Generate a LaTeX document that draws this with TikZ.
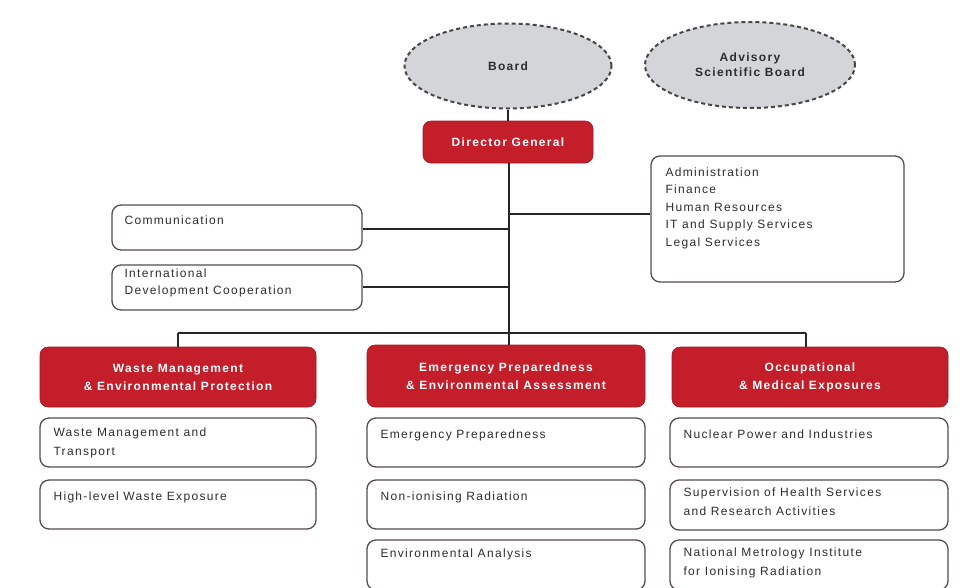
\documentclass[tikz,border=0pt]{standalone}
\usepackage{fontspec}
\setmainfont{Liberation Sans}[LetterSpace=11]
\usetikzlibrary{shapes.geometric}
\definecolor{deptred}{RGB}{196,30,42}
\definecolor{boxline}{RGB}{88,74,78}
\definecolor{txtgray}{RGB}{45,45,45}
\definecolor{ovalfill}{RGB}{211,213,216}
\definecolor{ovalline}{RGB}{70,70,70}
\tikzset{
  oval/.style={ellipse, draw=ovalline, fill=ovalfill, dashed, line width=2pt,
    dash pattern=on 4pt off 3pt, text=txtgray, font=\fontsize{12}{15}\selectfont\bfseries,
    align=center, inner sep=0pt},
  redbox/.style={rectangle, rounded corners=8pt, fill=deptred, draw=deptred!80!black,
    line width=0.6pt, text=white, font=\fontsize{12}{18}\selectfont\bfseries, align=center, inner sep=0pt},
  unitbox/.style={rectangle, rounded corners=9pt, draw=boxline, line width=1.3pt,
    fill=white, inner sep=0pt},
  unittext/.style={anchor=north west, inner sep=0pt, text=txtgray,
    font=\fontsize{12}{19}\selectfont, align=left},
  link/.style={draw=black!85, line width=1.1pt},
}
\begin{document}
\begin{tikzpicture}[x=1pt,y=-1pt]
\useasboundingbox (0,0) rectangle (966,587);

% governing boards
\node[oval, minimum width=207pt, minimum height=85pt] (board) at (508,66) {Board};
\node[oval, minimum width=210pt, minimum height=86pt] (asb) at (750,65) {Advisory\\Scientific Board};

% director general
\node[redbox, minimum width=170pt, minimum height=42pt] (dg) at (508,142) {Director General};

% staff units
\node[unitbox, minimum width=253pt, minimum height=126pt] (adm) at (777.5,219) {};
\node[unittext, font=\fontsize{12}{17.5}\selectfont] (admt) at ([xshift=15pt,yshift=-12pt]adm.north west)
  {Administration\\Finance\\Human Resources\\IT and Supply Services\\Legal Services};
\node[unitbox, minimum width=250pt, minimum height=45pt] (com) at (237,227.5) {};
\node[unittext] (comt) at ([xshift=13pt,yshift=-11pt]com.north west) {Communication};
\node[unitbox, minimum width=250pt, minimum height=45pt] (idc) at (237,287.5) {};
\node[unittext, font=\fontsize{12}{17}\selectfont] (idct) at ([xshift=13pt,yshift=-4pt]idc.north west)
  {International\\Development Cooperation};

% departments
\node[redbox, minimum width=276pt, minimum height=60pt] (wm) at (178,377) {Waste Management\\\& Environmental Protection};
\node[redbox, minimum width=278pt, minimum height=62pt] (ep) at (506,376) {Emergency Preparedness\\\& Environmental Assessment};
\node[redbox, minimum width=276pt, minimum height=60pt] (om) at (810,377) {Occupational\\\& Medical Exposures};

% sections
\node[unitbox, minimum width=276pt, minimum height=49pt] (wm1) at (178,442.5) {};
\node[unittext] (wm1t) at ([xshift=14pt,yshift=-10pt]wm1.north west) {Waste Management and\\Transport};
\node[unitbox, minimum width=276pt, minimum height=49pt] (wm2) at (178,504.5) {};
\node[unittext] (wm2t) at ([xshift=14pt,yshift=-12pt]wm2.north west) {High-level Waste Exposure};

\node[unitbox, minimum width=278pt, minimum height=49pt] (ep1) at (506,442.5) {};
\node[unittext] (ep1t) at ([xshift=14pt,yshift=-12pt]ep1.north west) {Emergency Preparedness};
\node[unitbox, minimum width=278pt, minimum height=49pt] (ep2) at (506,504.5) {};
\node[unittext] (ep2t) at ([xshift=14pt,yshift=-12pt]ep2.north west) {Non-ionising Radiation};
\node[unitbox, minimum width=278pt, minimum height=50pt] (ep3) at (506,565) {};
\node[unittext] (ep3t) at ([xshift=14pt,yshift=-9pt]ep3.north west) {Environmental Analysis};

\node[unitbox, minimum width=278pt, minimum height=49pt] (om1) at (809,442.5) {};
\node[unittext] (om1t) at ([xshift=14pt,yshift=-12pt]om1.north west) {Nuclear Power and Industries};
\node[unitbox, minimum width=278pt, minimum height=50pt] (om2) at (809,505) {};
\node[unittext] (om2t) at ([xshift=14pt,yshift=-8pt]om2.north west) {Supervision of Health Services\\and Research Activities};
\node[unitbox, minimum width=278pt, minimum height=50pt] (om3) at (809,565) {};
\node[unittext] (om3t) at ([xshift=14pt,yshift=-8pt]om3.north west) {National Metrology Institute\\for Ionising Radiation};

% trunk and branches
\coordinate (busL) at (178,333);
\coordinate (busC) at (509,333);
\coordinate (busR) at (806,333);
\coordinate (tAdm) at (509,214);
\coordinate (tCom) at (509,229);
\coordinate (tIdc) at (509,287);

\draw[link] (board.south) -- (board.south |- dg.north);
\draw[link] (dg.south -| busC) -- (busC);
\draw[link] (tAdm) -- (tAdm -| adm.west);
\draw[link, line width=2.4pt] (com.east |- tCom) -- (tCom);
\draw[link] (idc.east |- tIdc) -- (tIdc);
\draw[link] (busL) -- (busR);
\draw[link] (busL) -- (busL |- wm.north);
\draw[link] (busC) -- (busC |- ep.north);
\draw[link] (busR) -- (busR |- om.north);
\end{tikzpicture}
\end{document}
